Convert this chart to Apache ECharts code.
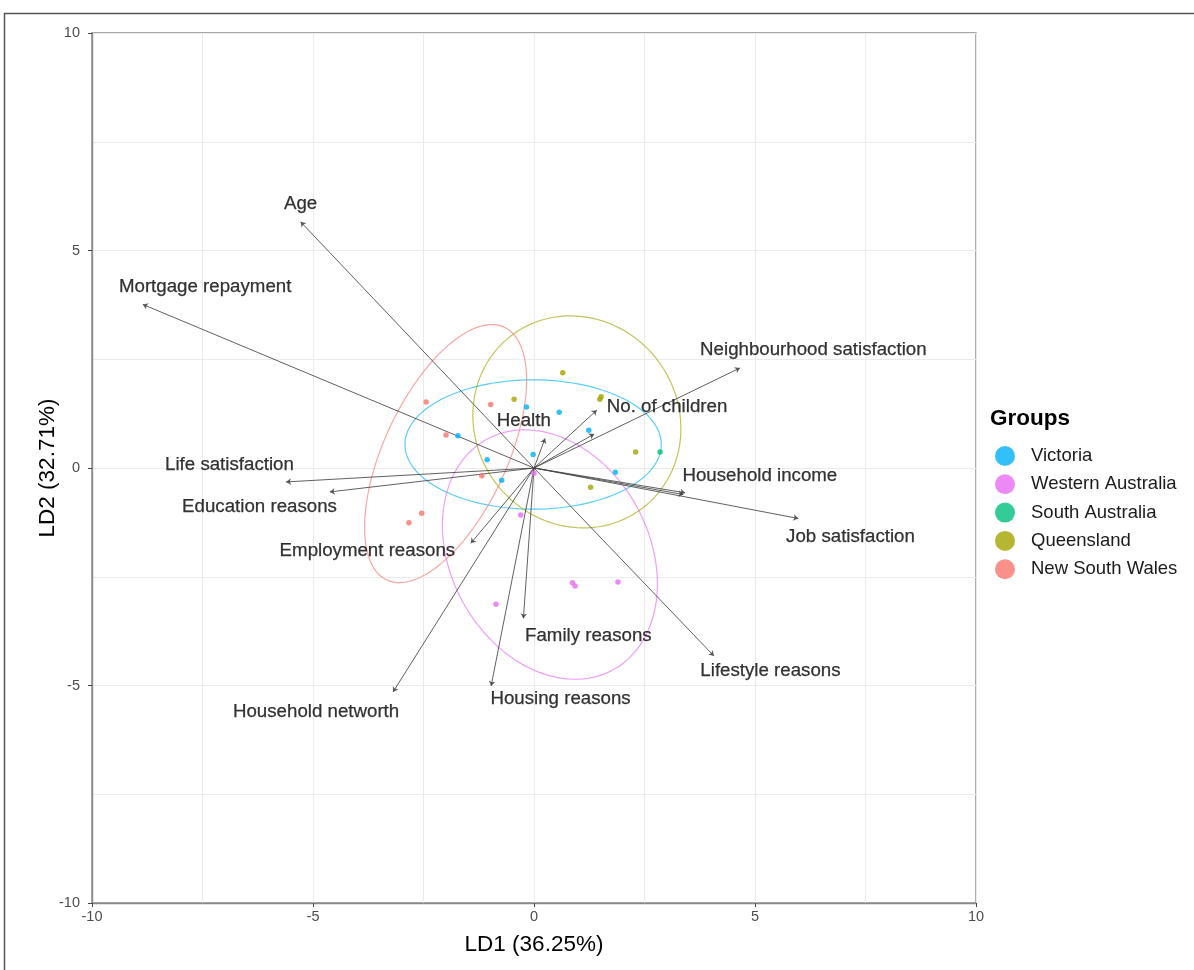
<!DOCTYPE html>
<html>
<head>
<meta charset="utf-8">
<script src="https://cdn.jsdelivr.net/npm/echarts@6/dist/echarts.min.js"></script>
<style>
  html, body { margin: 0; padding: 0; background: #fff; }
  #chart { width: 1194px; height: 970px; }
</style>
</head>
<body>
<div id="chart"></div>
<script>
// ---------- Data ----------
const groups = ['Victoria', 'Western Australia', 'South Australia', 'Queensland', 'New South Wales'];
const groupColors = ['#00B0F6', '#E76BF3', '#00BF7D', '#A3A500', '#F8766D'];

const vicX = [-0.17, 0.57, 1.24, -1.72, -0.02, -1.06, 1.84, -0.73];
const vicY = [1.40, 1.28, 0.87, 0.74, 0.31, 0.19, -0.10, -0.28];
const waX = [0.00, -0.30, 0.87, 0.93, 1.90, -0.86];
const waY = [-0.12, -1.08, -2.64, -2.71, -2.62, -3.13];
const saX = [2.85];
const saY = [0.37];
const qldX = [0.65, -0.45, 1.52, 1.49, 2.30, 1.28];
const qldY = [2.19, 1.58, 1.64, 1.58, 0.37, -0.44];
const nswX = [-2.44, -0.98, -1.99, -1.18, -2.54, -2.83];
const nswY = [1.52, 1.46, 0.76, -0.18, -1.04, -1.26];

// Ellipse parameters (centre and covariance-like shape matrix)
const ellipseGroups = ['Victoria', 'Western Australia', 'Queensland', 'New South Wales'];
const ellipseCx = [-0.02, 0.36, 0.97, -2.00];
const ellipseCy = [0.54, -1.99, 1.06, 0.33];
const ellipseSxx = [8.41, 5.915, 5.54, 3.36];
const ellipseSyy = [2.21, 8.22, 5.94, 8.80];
const ellipseSxy = [0.0, -1.63, -0.355, 3.1];

// Loading vectors (arrows from origin)
const varNames = ['Age', 'Mortgage repayment', 'Neighbourhood satisfaction', 'No. of children', '', 'Health',
  'Life satisfaction', 'Education reasons', 'Employment reasons', 'Household networth', 'Housing reasons',
  'Family reasons', 'Lifestyle reasons', 'Job satisfaction', 'Household income', ''];
const arrowX = [-5.28, -8.85, 4.66, 1.42, 1.36, 0.25, -5.61, -4.62, -1.43, -3.19, -0.97, -0.24, 4.07, 5.98, 3.42, 3.38];
const arrowY = [5.66, 3.76, 2.30, 1.33, 0.78, 0.68, -0.32, -0.55, -1.73, -5.15, -5.01, -3.46, -4.32, -1.16, -0.57, -0.61];
const labelX = [-5.28, -7.44, 6.32, 3.01, 0, -0.23, -6.89, -6.21, -3.77, -4.93, 0.60, 1.23, 5.35, 7.16, 5.11, 0];
const labelY = [6.07, 4.16, 2.71, 1.40, 0, 1.08, 0.07, -0.90, -1.91, -5.61, -5.31, -3.86, -4.67, -1.59, -0.18, 0];

const axisTicks = [-10, -5, 0, 5, 10];

// ---------- Build options ----------
const FONT = '"Liberation Sans", Arial, sans-serif';
const ptsX = [vicX, waX, saX, qldX, nswX];
const ptsY = [vicY, waY, saY, qldY, nswY];

const series = [];

groups.forEach((g, i) => {
  series.push({
    name: g,
    type: 'scatter',
    z: 6,
    symbol: 'circle',
    symbolSize: 5.5,
    itemStyle: { color: groupColors[i] },
    data: ptsX[i].map((x, j) => [x, ptsY[i][j]])
  });
});

ellipseGroups.forEach((g, k) => {
  const l11 = Math.sqrt(ellipseSxx[k]);
  const l21 = ellipseSxy[k] / l11;
  const l22 = Math.sqrt(ellipseSyy[k] - l21 * l21);
  const pts = [];
  for (let t = 0; t <= 120; t++) {
    const a = (t / 120) * Math.PI * 2;
    pts.push([ellipseCx[k] + l11 * Math.cos(a), ellipseCy[k] + l21 * Math.cos(a) + l22 * Math.sin(a)]);
  }
  series.push({
    name: g + ' ellipse',
    type: 'line',
    z: 2,
    symbol: 'none',
    silent: true,
    smooth: false,
    lineStyle: { color: groupColors[groups.indexOf(g)], width: 1.2, opacity: 0.65 },
    data: pts
  });
});

series.push({
  name: 'loadings',
  type: 'lines',
  coordinateSystem: 'cartesian2d',
  z: 4,
  silent: true,
  symbol: ['none', 'arrow'],
  symbolSize: [0, 5],
  lineStyle: { color: '#444', width: 1, opacity: 0.85 },
  data: arrowX.map((x, i) => ({ coords: [[0, 0], [x, arrowY[i]]] }))
});

series.push({
  name: 'labels',
  type: 'scatter',
  z: 7,
  silent: true,
  symbolSize: 2,
  itemStyle: { color: 'rgba(0,0,0,0)' },
  label: {
    show: true,
    position: 'inside',
    align: 'center',
    verticalAlign: 'middle',
    formatter: p => p.name,
    fontFamily: FONT,
    fontSize: 18.7,
    color: '#000',
    textBorderColor: '#000',
    textBorderWidth: 0.25
  },
  data: varNames.map((n, i) => ({ name: n, value: [labelX[i], labelY[i]] })).filter(d => d.name !== '')
});

const axisCommon = {
  type: 'value',
  min: -10,
  max: 10,
  interval: 5,
  axisLine: { show: true, onZero: false, lineStyle: { color: '#8a8a8a', width: 1.4 } },
  axisTick: { show: true, length: 4, lineStyle: { color: '#444' } },
  splitLine: { show: true, lineStyle: { color: '#EBEBEB', width: 1 } },
  minorTick: { show: false, splitNumber: 2 },
  minorSplitLine: { show: true, lineStyle: { color: '#EBEBEB', width: 1 } },
  axisLabel: {
    color: '#4D4D4D', fontFamily: FONT, fontSize: 14.5,
    formatter: v => axisTicks.indexOf(v) >= 0 ? String(v) : ''
  },
  nameLocation: 'middle',
  nameTextStyle: { color: '#000', fontFamily: FONT, fontSize: 22.5 }
};

const option = {
  animation: false,
  backgroundColor: '#fff',
  grid: {
    left: 92, right: 218, top: 33, bottom: 67,
    show: true, borderColor: '#8a8a8a', borderWidth: 1.4
  },
  xAxis: Object.assign({}, axisCommon, {
    name: 'LD1 (36.25%)', nameGap: 30,
    axisLabel: Object.assign({}, axisCommon.axisLabel, { margin: 6 })
  }),
  yAxis: Object.assign({}, axisCommon, {
    name: 'LD2 (32.71%)', nameGap: 33, nameMoveOverlap: false,
    axisLabel: Object.assign({}, axisCommon.axisLabel, { margin: 12 })
  }),
  legend: {
    orient: 'vertical',
    left: 990, top: 441,
    itemWidth: 20, itemHeight: 20, itemGap: 8.3,
    icon: 'circle',
    data: groups,
    textStyle: { fontFamily: FONT, fontSize: 18.5, color: '#1a1a1a', padding: [0, 0, 0, 11] }
  },
  graphic: [
    { type: 'text', left: 990, top: 407, style: { text: 'Groups', font: 'bold 22.5px "Liberation Sans", Arial, sans-serif', fill: '#000' } },
    { type: 'rect', left: 2, top: 11, shape: { width: 1300, height: 1000 }, style: { fill: 'none', stroke: '#555', lineWidth: 1.5 }, silent: true }
  ],
  series: series
};

const chart = echarts.init(document.getElementById('chart'), null, { renderer: 'canvas' });
chart.setOption(option);
</script>
</body>
</html>
